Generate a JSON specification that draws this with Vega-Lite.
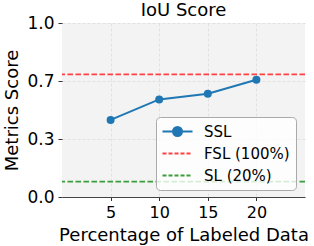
{
  "$schema": "https://vega.github.io/schema/vega-lite/v6.json",
  "autosize": "none",
  "width": 243,
  "height": 174,
  "padding": {"left": 62, "top": 23, "right": 9, "bottom": 49},
  "background": "white",
  "title": {"text": "IoU Score", "font": "DejaVu Sans", "fontSize": 18, "fontWeight": "normal", "color": "#000000", "offset": -6},
  "config": {
    "view": {"fill": "#f3f3f3", "stroke": null},
    "font": "DejaVu Sans",
    "axis": {"labelFont": "DejaVu Sans", "titleFont": "DejaVu Sans", "labelColor": "#000", "titleColor": "#000", "titleFontWeight": "normal", "gridColor": "#dcdcdc", "gridDash": [3, 2], "gridWidth": 0.8, "labelOverlap": false}
  },
  "datasets": {
    "ssl": [
      {"pct": 5, "score": 0.443, "series": "SSL"},
      {"pct": 10, "score": 0.561, "series": "SSL"},
      {"pct": 15, "score": 0.594, "series": "SSL"},
      {"pct": 20, "score": 0.674, "series": "SSL"}
    ],
    "refs": [
      {"score": 0.705, "series": "FSL (100%)"},
      {"score": 0.088, "series": "SL (20%)"}
    ]
  },
  "layer": [
    {
      "data": {"name": "ssl"},
      "mark": {"type": "line", "strokeWidth": 2, "point": {"filled": true, "size": 64}},
      "encoding": {
        "x": {"field": "pct", "type": "quantitative", "scale": {"domain": [0, 25], "nice": false, "zero": false},
              "axis": {"values": [5, 10, 15, 20], "title": "Percentage of Labeled Data", "titleFontSize": 18, "labelFontSize": 16, "tickSize": 3.5, "tickColor": "#333", "labelPadding": 4, "domainColor": "#444", "domainWidth": 1, "titlePadding": 6, "labelOverlap": false}},
        "y": {"field": "score", "type": "quantitative", "scale": {"domain": [0, 1], "nice": false},
              "axis": {"values": [0, 0.16666667, 0.33333333, 0.5, 0.66666667, 0.83333333, 1], "format": ".1f", "title": "Metrics Score", "titleFontSize": 18, "labelFontSize": 17, "domain": false, "tickSize": 4, "tickColor": "#333", "labelPadding": 4, "titlePadding": 5, "labelOverlap": false}},
        "color": {"field": "series", "type": "nominal",
                  "scale": {"domain": ["SSL", "FSL (100%)", "SL (20%)"], "range": ["#1f77b4", "#ff4040", "#3a9e3a"]},
                  "legend": {
                    "title": null, "orient": "none", "legendX": 94, "legendY": 94,
                    "labelFontSize": 15, "labelFont": "DejaVu Sans", "labelColor": "#000",
                    "symbolSize": 225, "symbolStrokeWidth": 2, "rowPadding": 5, "labelOffset": 18, "symbolOffset": 7,
                    "padding": 6, "cornerRadius": 4, "strokeColor": "#aaaaaa", "fillColor": "rgba(255,255,255,0.8)",
                    "encode": {"symbols": {"update": {
                      "shape": {"signal": "datum.value === 'SSL' ? 'M-2,0H2M-0.6,0A0.6,0.6 0 1 1 0.6,0A0.6,0.6 0 1 1 -0.6,0' : 'M-2,0H2'"},
                      "fill": {"signal": "datum.value === 'SSL' ? '#1f77b4' : 'transparent'"},
                      "strokeDash": {"signal": "datum.value === 'SSL' ? [] : [4, 2]"}
                    }}}
                  }}
      }
    },
    {
      "data": {"name": "refs"},
      "mark": {"type": "rule", "strokeWidth": 1.8, "strokeDash": [5.5, 2.5]},
      "encoding": {
        "y": {"field": "score", "type": "quantitative"},
        "color": {"field": "series", "type": "nominal"}
      }
    }
  ]
}
